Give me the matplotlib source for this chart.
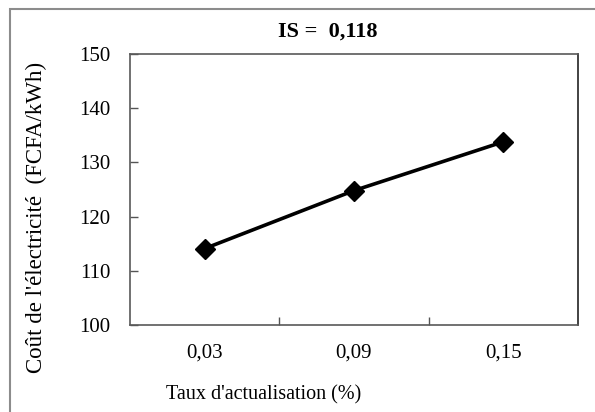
"""Coût de l'électricité vs taux d'actualisation (IS = 0,118)."""

import matplotlib
matplotlib.use('Agg')
import matplotlib.pyplot as plt
from matplotlib.patches import Rectangle

# Data
categories = ['0,03', '0,09', '0,15']
costs = [114.1, 124.8, 133.8]
yticks = [100, 110, 120, 130, 140, 150]

plt.rcParams['font.family'] = ['Liberation Serif', 'DejaVu Serif']

W, H = 595, 412
fig = plt.figure(figsize=(W / 100, H / 100), dpi=100)
ax = fig.add_axes([130 / W, 1 - 325 / H, 448 / W, 271 / H])

x = list(range(len(categories)))
ax.plot(x, costs, color='black', linewidth=2.6, marker='D', markersize=10,
        markerfacecolor='black', markeredgecolor='black', zorder=3)

ax.set_xlim(-0.5, len(categories) - 0.5)
ax.set_ylim(100, 150)
ax.set_yticks(yticks)
ax.set_xticks(x)
ax.set_xticklabels(categories)
# Excel-style category ticks between the categories
ax.set_xticks([0.5, 1.5], minor=True)
ax.tick_params(axis='x', which='major', length=0, pad=13, labelsize=15)
ax.tick_params(axis='x', which='minor', direction='in', length=6, width=1,
               color='#555555')
ax.tick_params(axis='y', direction='in', length=6, width=1, color='#555555',
               pad=14, labelsize=15)

for sp in ax.spines.values():
    sp.set_color('#595959')
    sp.set_linewidth(1.2)
ax.spines['right'].set_color('#222222')

# axis titles and chart title, placed like the Excel original
fig.text(264 / W, 1 - 395 / H, "Taux d'actualisation (%)", fontsize=14.5,
         ha='center', va='center')
fig.text(36 / W, 1 - 217 / H, "Coût de l'électricité  (FCFA/kWh)",
         fontsize=16.5, rotation=90, ha='center', va='center')
fig.text(328 / W, 1 - 32 / H, 'IS =  0,118', fontsize=16, fontweight='bold',
         ha='center', va='center')

# Outer chart border (runs off the right and bottom edges)
fig.patches.append(Rectangle((10 / W, -0.05), 1.0, 1 - 9 / H + 0.05,
                             transform=fig.transFigure, fill=False,
                             edgecolor='#8c8c8c', linewidth=1.5))

fig.savefig('out.png', dpi=100)
